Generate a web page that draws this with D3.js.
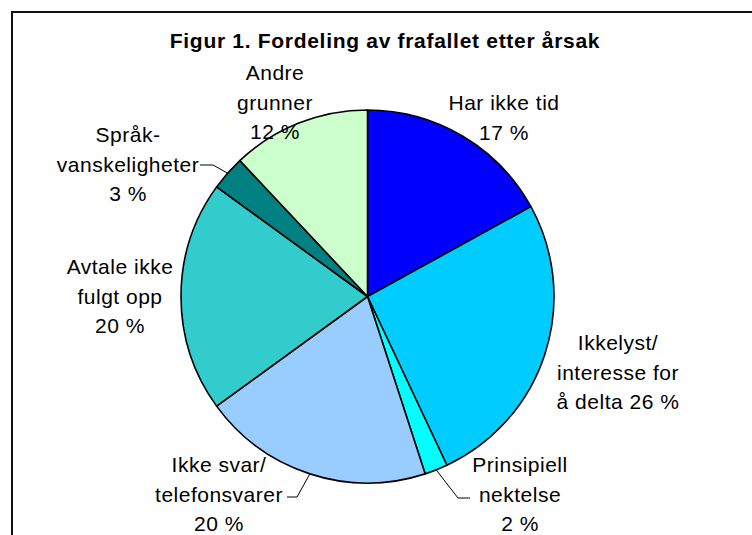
<!DOCTYPE html>
<html>
<head>
<meta charset="utf-8">
<script src="https://cdn.jsdelivr.net/npm/d3@7"></script>
<style>
  html, body { margin: 0; padding: 0; background: #fff; }
  svg { display: block; }
  text { font-family: "Liberation Sans", Arial, sans-serif; fill: #000; }
</style>
</head>
<body>
<svg id="chart" width="752" height="535"></svg>
<script>
  // data
  var TITLE = 'Figur 1. Fordeling av frafallet etter årsak'
  var CATEGORIES = ['Har ikke tid', 'Ikkelyst/ interesse for å delta', 'Prinsipiell nektelse',
    'Ikke svar/ telefonsvarer', 'Avtale ikke fulgt opp', 'Språkvanskeligheter', 'Andre grunner']
  var VALUES = [17, 26, 2, 20, 20, 3, 12]
  var LABEL_LINES = [
    ['Har ikke tid', '17 %'],
    ['Ikkelyst/', 'interesse for', 'å delta 26 %'],
    ['Prinsipiell', 'nektelse', '2 %'],
    ['Ikke svar/', 'telefonsvarer', '20 %'],
    ['Avtale ikke', 'fulgt opp', '20 %'],
    ['Språk-', 'vanskeligheter', '3 %'],
    ['Andre', 'grunner', '12 %']
  ]

  // styles / layout
  var COLORS = ['#0000ff', '#00ccff', '#00ffff', '#99ccff', '#33cccc', '#008080', '#ccffcc']
  var WIDTH = 752, HEIGHT = 535
  var CX = 367.5, CY = 296.5, RADIUS = 186.5
  var LINE_GAP = 29.5
  // label anchor: [center x, first baseline y]
  var LABEL_POS = [[504, 110], [618, 350], [520, 472], [219, 472], [120, 274], [128, 142], [275, 80]]
  // leader elbows (null = no leader)
  var LEADERS = [null, null, [[458, 498], [470, 498]], [[297, 497], [287, 497]], null, [[213, 165], [200, 165]], null]

  var svg = d3.select('#chart')

  // frame (cut off at right/bottom)
  svg.append('rect')
    .attr('x', 12).attr('y', 12)
    .attr('width', WIDTH).attr('height', HEIGHT)
    .attr('fill', 'none')
    .attr('stroke', '#111')
    .attr('stroke-width', 2)

  svg.append('text')
    .attr('x', 385).attr('y', 48)
    .attr('text-anchor', 'middle')
    .style('font-size', '21px')
    .style('font-weight', 'bold')
    .style('letter-spacing', '0.7px')
    .text(TITLE)

  var pie = d3.pie().sort(null).value(function (d) { return d })
  var arcs = pie(VALUES)
  var arc = d3.arc().innerRadius(0).outerRadius(RADIUS)
  var edge = d3.arc().innerRadius(RADIUS).outerRadius(RADIUS)

  var g = svg.append('g').attr('transform', 'translate(' + CX + ',' + CY + ')')
  g.selectAll('path.slice')
    .data(arcs)
    .enter().append('path')
    .attr('class', 'slice')
    .attr('d', arc)
    .attr('fill', function (d, i) { return COLORS[i] })
    .attr('stroke', '#000')
    .attr('stroke-width', 1.6)
    .attr('stroke-linejoin', 'round')

  // leader lines
  arcs.forEach(function (d, i) {
    if (!LEADERS[i]) return
    var c = edge.centroid(d)
    var pts = [[CX + c[0], CY + c[1]]].concat(LEADERS[i])
    svg.append('path')
      .attr('d', d3.line()(pts))
      .attr('fill', 'none')
      .attr('stroke', '#000')
      .attr('stroke-width', 1)
  })

  // labels
  LABEL_LINES.forEach(function (lines, i) {
    var t = svg.append('text')
      .attr('text-anchor', 'middle')
      .style('font-size', '21px')
      .style('letter-spacing', '0.5px')
    lines.forEach(function (line, j) {
      t.append('tspan')
        .attr('x', LABEL_POS[i][0])
        .attr('y', LABEL_POS[i][1] + j * LINE_GAP)
        .text(line)
    })
  })
</script>
</body>
</html>
